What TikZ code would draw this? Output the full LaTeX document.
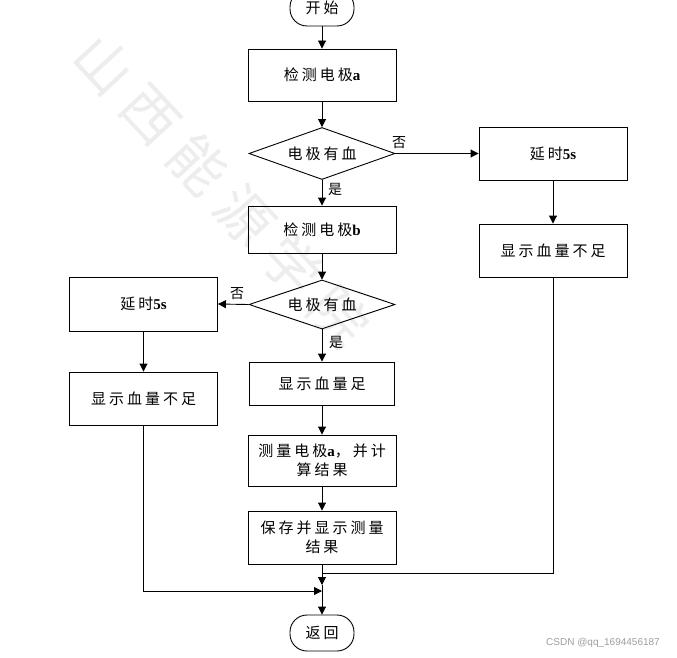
\documentclass[tikz,border=0pt]{standalone}
\usepackage{fontspec}
\setmainfont{Liberation Serif}
\setsansfont{Liberation Sans}
\newfontfamily\cjk[LetterSpace=20]{Noto Sans CJK SC}
\newfontfamily\wmfont{Noto Sans CJK SC}
\usetikzlibrary{shapes.geometric,arrows.meta}
\begin{document}
\begin{tikzpicture}[x=1pt,y=-1pt,
  every node/.style={font=\fontsize{15}{19}\selectfont\cjk},
  box/.style={draw,line width=0.9pt,minimum width=148pt,minimum height=52pt,inner sep=1pt,align=center},
  term/.style={draw,line width=0.9pt,rounded corners=17pt,minimum width=64pt,minimum height=36pt},
  dec/.style={draw,diamond,line width=0.9pt,shape aspect=3,inner sep=0pt,minimum width=146pt,minimum height=52pt},
  arr/.style={line width=0.9pt,-{Triangle[length=8pt,width=8pt]}},
  ln/.style={line width=0.9pt},
  lab/.style={font=\fontsize{14}{14}\selectfont\cjk,inner sep=1pt}]
\useasboundingbox (0,0) rectangle (677,658);
\fill[white] (0,0) rectangle (677,658);
% watermark
\node[rotate=-47,text=gray!14,font=\fontsize{56}{56}\selectfont\wmfont] (wm) at (222,190)
  {山\hspace{13pt}西\hspace{13pt}能\hspace{13pt}源\hspace{13pt}学\hspace{13pt}院};
% nodes
\node[term] (start) at (322,8) {开始};
\node[box] (b1) at (322,75) {检测电极{\rmfamily\bfseries a}};
\node[dec] (d1) at (322,153.5) {电极有血};
\node[box,minimum height=53pt] (r1) at (553,153.5) {延时{\rmfamily\bfseries 5s}};
\node[box,minimum height=47pt] (b2) at (322,229.5) {检测电极{\rmfamily\bfseries b}};
\node[box,minimum height=53pt] (r2) at (553,250.5) {显示血量不足};
\node[dec,minimum height=49pt] (d2) at (322,304.5) {电极有血};
\node[box,minimum height=54pt] (l1) at (143.5,304) {延时{\rmfamily\bfseries 5s}};
\node[box,minimum height=53pt] (l2) at (143.5,398.5) {显示血量不足};
\node[box,minimum width=145pt,minimum height=43pt] (s3) at (322,383.5) {显示血量足};
\node[box,minimum height=51pt] (s4) at (322,460.5) {测量电极{\rmfamily\bfseries a}，并计\\算结果};
\node[box,minimum height=53pt] (s5) at (322,537.5) {保存并显示测量\\结果};
\node[term] (ret) at (322,633) {返回};
% connectors
\draw[arr] (start) -- (b1);
\draw[arr] (b1) -- (d1);
\draw[arr] (d1.east) -- (r1.west);
\draw[arr] (d1.south) -- (b2.north);
\draw[arr] (b2) -- (d2);
\draw[arr] (d2.west) -- (l1.east);
\draw[arr] (d2.south) -- (s3.north);
\draw[arr] (r1) -- (r2);
\draw[arr] (l1) -- (l2);
\draw[arr] (s3) -- (s4);
\draw[arr] (s4) -- (s5);
\coordinate (j1) at (322,573);
\coordinate (j3) at (322,585);
\coordinate (j2) at (322,591);
\draw[arr] (s5.south) -- (j3);
\draw[ln] (j3) -- (j2);
\draw[ln] (r2.south) |- (j1);
\draw[arr] (l2.south) |- (j2);
\draw[arr] (j2) -- (ret.north);
% labels
\node[lab] (n1) at (399,143) {否};
\node[lab] (y1) at (335,189) {是};
\node[lab] (n2) at (237,294) {否};
\node[lab] (y2) at (336,342) {是};
\node[font=\fontsize{10}{10}\selectfont\sffamily,text=gray!75,anchor=east,inner sep=0pt] (csdn) at (660,643) {CSDN @qq\_1694456187};
\end{tikzpicture}
\end{document}
